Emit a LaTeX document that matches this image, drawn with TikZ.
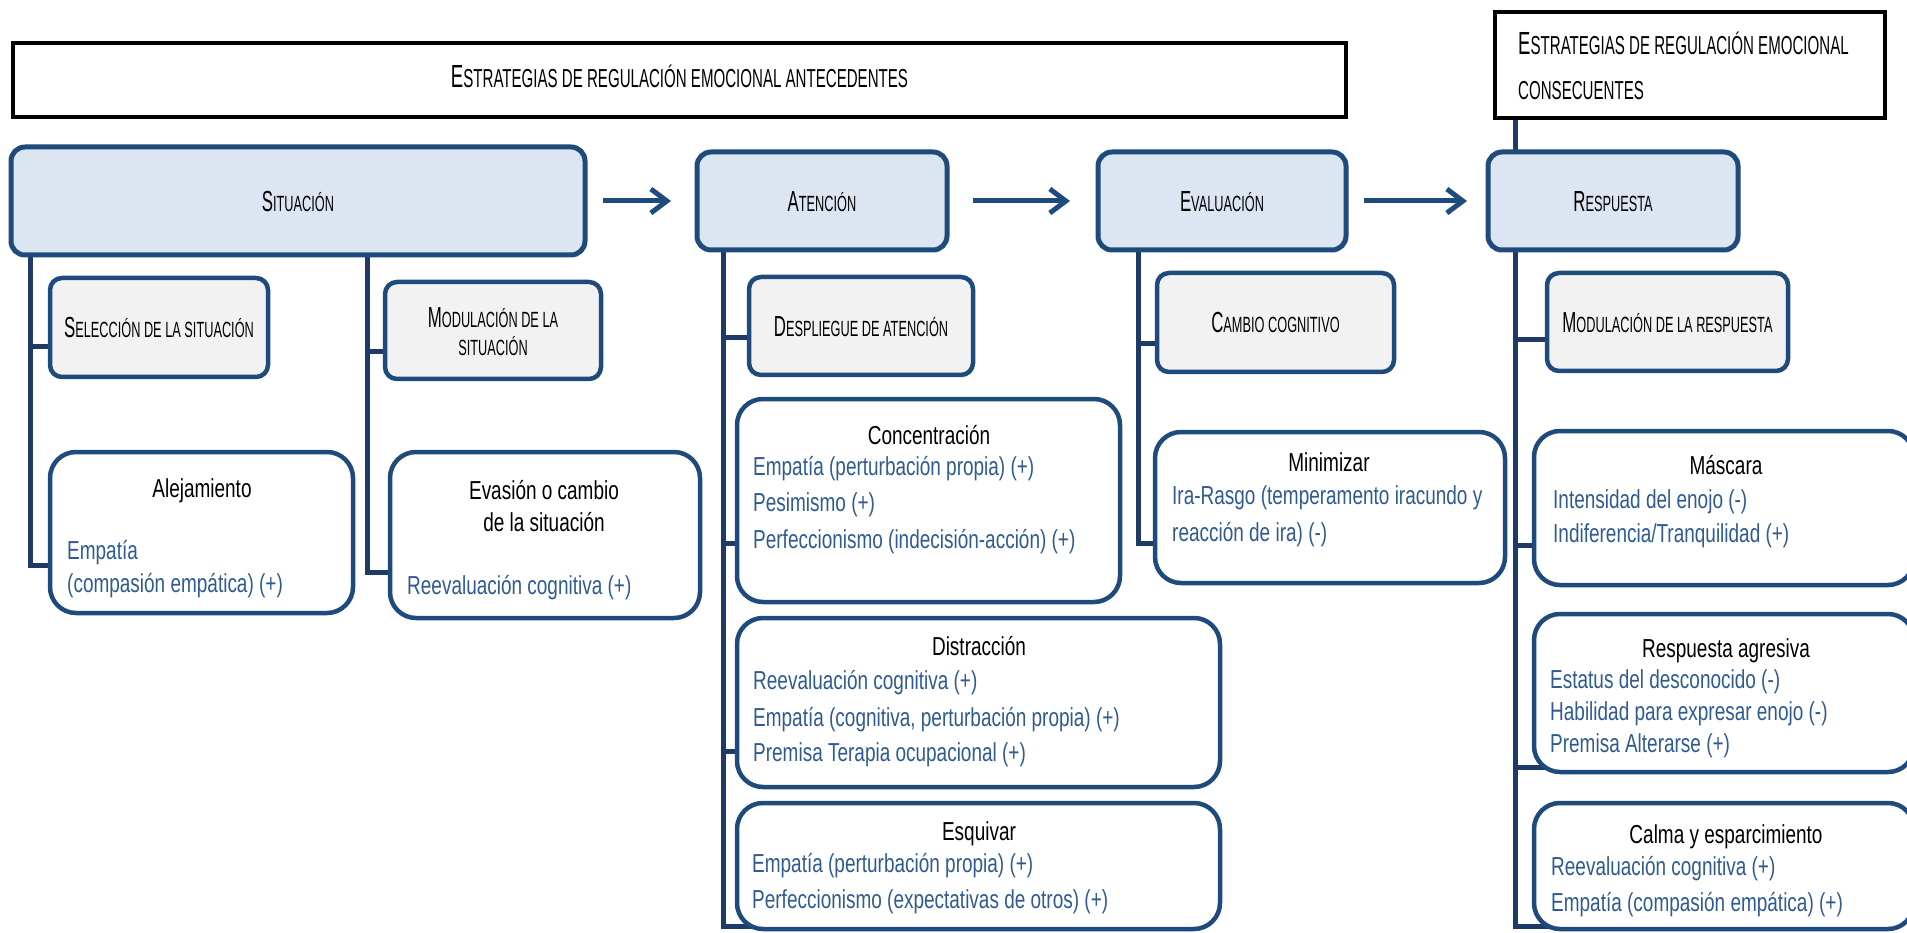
\documentclass[tikz,border=0pt]{standalone}
\usepackage{fontspec}
\setmainfont[FakeStretch=0.73]{Liberation Sans}
\newfontfamily\capfont[FakeStretch=0.58]{Liberation Sans}
\usetikzlibrary{arrows.meta}

\definecolor{boxnavy}{HTML}{1F4A7C}
\definecolor{trunknavy}{HTML}{1E3B68}
\definecolor{paleblue}{HTML}{DCE6F2}
\definecolor{palegray}{HTML}{F2F2F2}
\definecolor{itemblue}{HTML}{2F5B91}

% imitation small caps: first letter full size, the rest as reduced capitals
\newcommand\scbig[2]{{\capfont\fontsize{32}{32}\selectfont #1}{\capfont\fontsize{26}{26}\selectfont #2}}
\newcommand\scmid[2]{{\capfont\fontsize{29}{29}\selectfont #1}{\capfont\fontsize{22}{22}\selectfont #2}}

% box from its left/top/right/bottom edges: name, style, x1, y1, x2, y2, text
\newcommand\mkbox[7]{%
  \pgfmathsetmacro\bxW{#5-#3}\pgfmathsetmacro\bxH{#6-#4}%
  \pgfmathsetmacro\bxX{(#3+#5)/2}\pgfmathsetmacro\bxY{(#4+#6)/2}%
  \node[#2, minimum width=\bxW pt, minimum height=\bxH pt] (#1) at (\bxX,\bxY) {#7};}

\pgfdeclarelayer{background}
\pgfsetlayers{background,main}

\tikzset{
  hdrbox/.style={draw=black, line width=4.5pt, inner sep=0pt, outer sep=0pt},
  stagebox/.style={draw=boxnavy, fill=paleblue, line width=5pt, rounded corners=14pt,
    inner sep=0pt, outer sep=0pt, text height=20.8pt, text depth=0pt},
  tacticbox/.style={draw=boxnavy, fill=palegray, line width=4.5pt, rounded corners=12pt,
    inner sep=0pt, outer sep=0pt, text height=20.8pt, text depth=0pt},
  detailbox/.style={draw=boxnavy, fill=white, line width=4.5pt, rounded corners=26pt,
    inner sep=0pt, outer sep=0pt},
  capnode/.style={inner sep=0pt, text height=20.8pt, text depth=0pt},
  ttl/.style={inner sep=0pt, font=\fontsize{26}{26}\selectfont, text height=18.6pt, text depth=0pt},
  item/.style={ttl, text=itemblue, anchor=west},
  trunk/.style={draw=trunknavy, line width=5pt},
  flow/.style={draw=boxnavy, line width=5pt, -{Straight Barb[length=16pt,width=24pt]}},
}

\begin{document}
\begin{tikzpicture}[x=1pt, y=-1pt]
\useasboundingbox (0,0) rectangle (1907,933);
\clip (0,0) rectangle (1907,933);

% group headers
\mkbox{antB}{hdrbox, text height=22.9pt, text depth=8pt}{13}{43}{1346}{117}
  {\scbig{E}{STRATEGIAS DE REGULACIÓN EMOCIONAL ANTECEDENTES}}
\mkbox{csqB}{hdrbox}{1495}{12}{1885}{118}{}
\node[inner sep=0pt, anchor=west, text height=22.9pt, text depth=0pt] (csqT1) at (1518,43.5)
  {\scbig{E}{STRATEGIAS DE REGULACIÓN EMOCIONAL}};
\node[inner sep=0pt, anchor=west, text height=18.6pt, text depth=0pt] (csqT2) at (1518,90)
  {\scbig{}{CONSECUENTES}};

% stages of the process
\mkbox{sitB}{stagebox}{11}{147}{585}{255}{\scmid{S}{ITUACIÓN}}
\mkbox{ateB}{stagebox}{697}{152}{947}{250}{\scmid{A}{TENCIÓN}}
\mkbox{evlB}{stagebox}{1098}{152}{1346}{250}{\scmid{E}{VALUACIÓN}}
\mkbox{resB}{stagebox}{1488}{152}{1738}{250}{\scmid{R}{ESPUESTA}}

% strategy families
\mkbox{selB}{tacticbox}{50}{278}{268}{377}{\scmid{S}{ELECCIÓN DE LA SITUACIÓN}}
\mkbox{mdsB}{tacticbox}{385}{282}{601}{379}{}
\node[capnode] (mdsT1) at (493,317) {\scmid{M}{ODULACIÓN DE LA}};
\node[capnode, text height=15.75pt] (mdsT2) at (493,348) {\scmid{}{SITUACIÓN}};
\mkbox{depB}{tacticbox}{749}{277}{973}{375}{\scmid{D}{ESPLIEGUE DE ATENCIÓN}}
\mkbox{camB}{tacticbox}{1157}{273}{1394}{372}{\scmid{C}{AMBIO COGNITIVO}}
\mkbox{mdrB}{tacticbox}{1547}{273}{1788}{371}{\scmid{M}{ODULACIÓN DE LA RESPUESTA}}

% concrete strategies and their predictors
\mkbox{aleB}{detailbox}{50}{452}{353}{613}{}
\node[ttl] (aleT) at (202,488) {Alejamiento};
\node[item] (aleI1) at (67,550) {Empatía};
\node[item] (aleI2) at (67,583) {(compasión empática) (+)};

\mkbox{evaB}{detailbox}{390}{452}{700}{618}{}
\node[ttl] (evaT1) at (544,490) {Evasión o cambio};
\node[ttl] (evaT2) at (544,522) {de la situación};
\node[item] (evaI1) at (407,585) {Reevaluación cognitiva (+)};

\mkbox{concB}{detailbox}{737}{399}{1120}{602}{}
\node[ttl] (concT) at (929,435) {Concentración};
\node[item] (concI1) at (753,466) {Empatía (perturbación propia) (+)};
\node[item] (concI2) at (753,502) {Pesimismo (+)};
\node[item] (concI3) at (753,539) {Perfeccionismo (indecisión-acción) (+)};

\mkbox{disB}{detailbox}{737}{618}{1220}{787}{}
\node[ttl] (disT) at (979,646) {Distracción};
\node[item] (disI1) at (753,680) {Reevaluación cognitiva (+)};
\node[item] (disI2) at (753,717) {Empatía (cognitiva, perturbación propia) (+)};
\node[item] (disI3) at (753,752) {Premisa Terapia ocupacional (+)};

\mkbox{esqB}{detailbox}{737}{803}{1220}{929}{}
\node[ttl] (esqT) at (979,831) {Esquivar};
\node[item] (esqI1) at (752,863) {Empatía (perturbación propia) (+)};
\node[item] (esqI2) at (752,899) {Perfeccionismo (expectativas de otros) (+)};

\mkbox{minB}{detailbox}{1155}{432}{1505}{583}{}
\node[ttl] (minT) at (1329,462) {Minimizar};
\node[item] (minI1) at (1172,495) {Ira-Rasgo (temperamento iracundo y};
\node[item] (minI2) at (1172,532) {reacción de ira) (-)};

\mkbox{masB}{detailbox}{1534}{431}{1914}{585}{}
\node[ttl] (masT) at (1726,465) {Máscara};
\node[item] (masI1) at (1553,499) {Intensidad del enojo (-)};
\node[item] (masI2) at (1553,533) {Indiferencia/Tranquilidad (+)};

\mkbox{agrB}{detailbox}{1534}{614}{1914}{772}{}
\node[ttl] (agrT) at (1726,648) {Respuesta agresiva};
\node[item] (agrI1) at (1550,679) {Estatus del desconocido (-)};
\node[item] (agrI2) at (1550,711) {Habilidad para expresar enojo (-)};
\node[item] (agrI3) at (1550,743) {Premisa Alterarse (+)};

\mkbox{calB}{detailbox}{1534}{803}{1914}{929}{}
\node[ttl] (calT) at (1726,834) {Calma y esparcimiento};
\node[item] (calI1) at (1551,866) {Reevaluación cognitiva (+)};
\node[item] (calI2) at (1551,902) {Empatía (compasión empática) (+)};

% arrows between stages
\draw[flow, shorten <=18pt, shorten >=26pt] (sitB.east) -- (ateB.west);
\draw[flow, shorten <=26pt, shorten >=28pt] (ateB.east) -- (evlB.west);
\draw[flow, shorten <=18pt, shorten >=21pt] (evlB.east) -- (resB.west);

% tree connectors, kept under the boxes
\begin{pgfonlayer}{background}
  % Situación
  \draw[trunk] ([xshift=19pt]sitB.south west) |- ([yshift=48pt]aleB.south west);
  \draw[trunk] ([yshift=-19.5pt]selB.west) -| ([xshift=19pt]sitB.south west);
  \draw[trunk] ([xshift=356pt]sitB.south west) |- ([yshift=46pt]evaB.south west);
  \draw[trunk] ([yshift=-21.5pt]mdsB.west) -| ([xshift=356pt]sitB.south west);
  % Atención
  \draw[trunk] ([xshift=26pt]ateB.south west) |- ([xshift=20pt,yshift=3pt]esqB.south west);
  \draw[trunk] ([yshift=-12pt]depB.west) -| ([xshift=26pt]ateB.south west);
  \draw[trunk] ([xshift=6pt,yshift=59pt]concB.south west) -| ([xshift=26pt]ateB.south west);
  \draw[trunk] ([xshift=12pt,yshift=36pt]disB.south west) -| ([xshift=26pt]ateB.south west);
  % Evaluación
  \draw[trunk] ([xshift=40pt]evlB.south west) |- ([xshift=6pt,yshift=40pt]minB.south west);
  \draw[trunk] ([yshift=-21.5pt]camB.west) -| ([xshift=40pt]evlB.south west);
  % Respuesta
  \draw[trunk] ([xshift=20pt]csqB.south west) -- ([xshift=27pt]resB.north west);
  \draw[trunk] ([xshift=27pt]resB.south west) |- ([xshift=20pt,yshift=3pt]calB.south west);
  \draw[trunk] ([yshift=-18pt]mdrB.west) -| ([xshift=27pt]resB.south west);
  \draw[trunk] ([xshift=6pt,yshift=40pt]masB.south west) -| ([xshift=27pt]resB.south west);
  \draw[trunk] ([xshift=20pt,yshift=5pt]agrB.south west) -| ([xshift=27pt]resB.south west);
\end{pgfonlayer}
\end{tikzpicture}
\end{document}
